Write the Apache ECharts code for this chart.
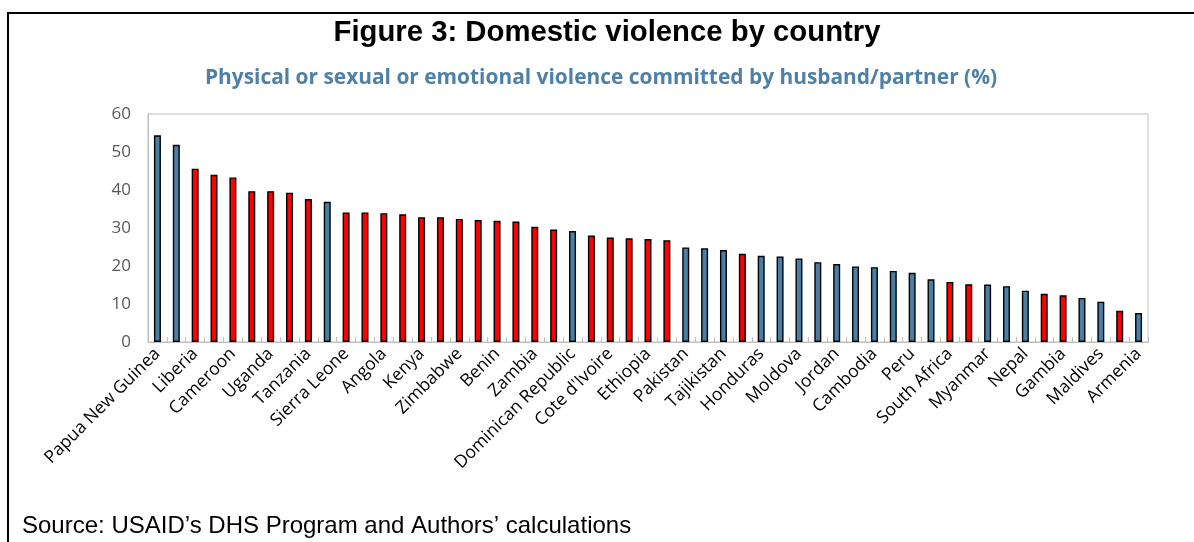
<!DOCTYPE html>
<html>
<head>
<meta charset="utf-8">
<script src="https://cdn.jsdelivr.net/npm/echarts@6/dist/echarts.min.js"></script>
<style>
html,body{margin:0;padding:0;background:#fff;}
#chart{width:1194px;height:542px;}
</style>
</head>
<body>
<div id="chart"></div>
<script>
const titleText = 'Figure 3: Domestic violence by country';
const subtitleText = 'Physical or sexual or emotional violence committed by husband/partner (%)';
const sourceText = 'Source: USAID\u2019s DHS Program and Authors\u2019 calculations';

// Only every other bar is labelled in the original figure
const categories = [
  'Papua New Guinea','', 'Liberia','', 'Cameroon','', 'Uganda','', 'Tanzania','',
  'Sierra Leone','', 'Angola','', 'Kenya','', 'Zimbabwe','', 'Benin','',
  'Zambia','', 'Dominican Republic','', "Cote d'Ivoire",'', 'Ethiopia','',
  'Pakistan','', 'Tajikistan','', 'Honduras','', 'Moldova','', 'Jordan','',
  'Cambodia','', 'Peru','', 'South Africa','', 'Myanmar','', 'Nepal','',
  'Gambia','', 'Maldives','', 'Armenia'
];
const values = [
  54.4, 51.9, 45.6, 44.0, 43.3, 39.7, 39.7, 39.3, 37.6, 36.9,
  34.1, 34.1, 33.9, 33.6, 32.8, 32.8, 32.4, 32.1, 31.9, 31.7,
  30.3, 29.6, 29.2, 28.0, 27.5, 27.3, 27.1, 26.8, 24.9, 24.7,
  24.2, 23.2, 22.7, 22.5, 22.0, 21.0, 20.5, 19.9, 19.7, 18.7,
  18.2, 16.5, 15.8, 15.2, 15.1, 14.7, 13.5, 12.7, 12.3, 11.6,
  10.6, 8.2, 7.6
];
// group: 'b' = blue, 'r' = red
const groups = [
  'b','b','r','r','r','r','r','r','r','b',
  'r','r','r','r','r','r','r','r','r','r',
  'r','r','b','r','r','r','r','r','b','b',
  'b','r','b','b','b','b','b','b','b','b',
  'b','b','r','r','b','b','b','r','r','b',
  'b','r','b'
];
const yTicks = [0, 10, 20, 30, 40, 50, 60];

const groupColors = { b: '#4a7fa5', r: '#ff0000' };

const chart = echarts.init(document.getElementById('chart'), null, {renderer: 'canvas'});
chart.setOption({
  animation: false,
  backgroundColor: '#ffffff',
  graphic: [
    {type: 'line', shape: {x1: 7, y1: 13, x2: 1194, y2: 13}, style: {stroke: '#000', lineWidth: 2}},
    {type: 'line', shape: {x1: 8, y1: 12, x2: 8, y2: 542}, style: {stroke: '#000', lineWidth: 2}},
    {type: 'text', x: 607, y: 33, style: {
      text: titleText, textAlign: 'center', textVerticalAlign: 'middle',
      font: 'bold 29.3px "Liberation Sans", Arial, sans-serif', fill: '#000'}},
    {type: 'text', x: 601, y: 78, style: {
      text: subtitleText, textAlign: 'center', textVerticalAlign: 'middle',
      font: 'bold 20.9px "Open Sans", "Noto Sans", sans-serif', fill: '#4f81a8'}},
    {type: 'text', x: 22, y: 526, style: {
      text: sourceText, textAlign: 'left', textVerticalAlign: 'middle',
      font: '24px "Liberation Sans", Arial, sans-serif', fill: '#000'}}
  ],
  grid: {
    left: 148, right: 46, top: 114, bottom: 200,
    show: true, borderColor: '#c0c0c0', borderWidth: 1, backgroundColor: 'transparent'
  },
  xAxis: {
    type: 'category',
    data: categories,
    axisLine: {show: true, lineStyle: {color: '#bfbfbf', width: 1}},
    axisTick: {show: true, inside: true, length: 5, interval: 0, lineStyle: {color: '#bfbfbf'}},
    axisLabel: {
      interval: 0, rotate: 45, margin: 9,
      fontFamily: 'Open Sans, Noto Sans, sans-serif', fontSize: 17.5, color: '#000'
    },
    splitLine: {show: false}
  },
  yAxis: {
    type: 'value',
    min: yTicks[0], max: yTicks[yTicks.length - 1], interval: 10,
    axisLine: {show: true, lineStyle: {color: '#bfbfbf'}},
    axisTick: {show: false},
    axisLabel: {fontFamily: 'Open Sans, Noto Sans, sans-serif', fontSize: 17, color: '#595959', margin: 17},
    splitLine: {show: false}
  },
  series: [{
    type: 'bar',
    barWidth: 7,
    data: values.map((v, i) => ({
      value: v,
      itemStyle: {color: groupColors[groups[i]], borderColor: '#000', borderWidth: 1.4}
    }))
  }]
});
</script>
</body>
</html>
